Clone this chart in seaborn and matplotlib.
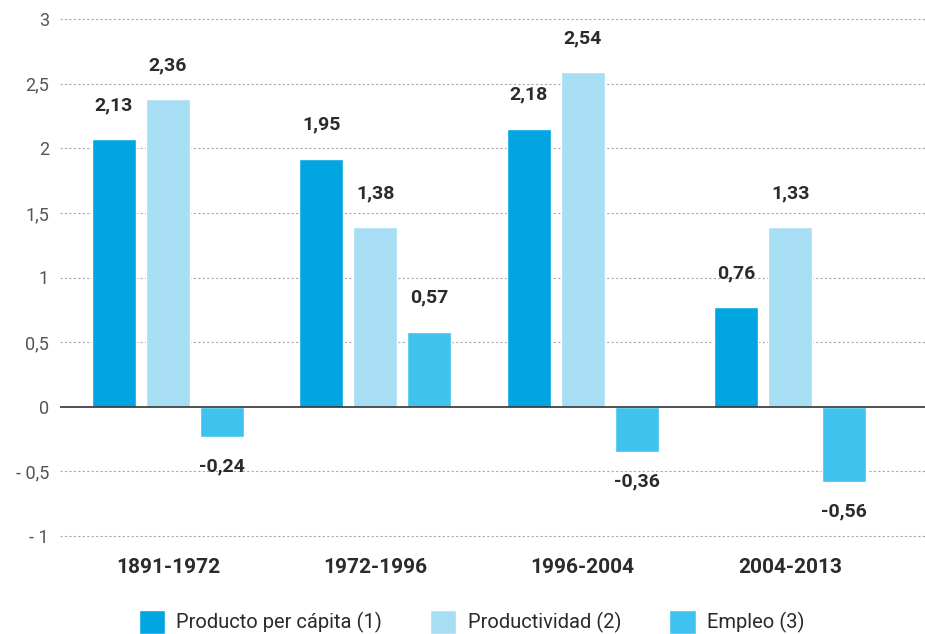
import matplotlib
matplotlib.use("Agg")
import matplotlib.pyplot as plt
from matplotlib import font_manager
import seaborn as sns
import pandas as pd

periods = ["1891-1972", "1972-1996", "1996-2004", "2004-2013"]
series = ["Producto per cápita (1)", "Productividad (2)", "Empleo (3)"]
# bar heights as drawn in the reference
producto = [2.07, 1.92, 2.15, 0.77]
productividad = [2.38, 1.39, 2.59, 1.39]
empleo = [-0.23, 0.58, -0.35, -0.58]
# printed value labels
producto_lbl = ["2,13", "1,95", "2,18", "0,76"]
productividad_lbl = ["2,36", "1,38", "2,54", "1,33"]
empleo_lbl = ["-0,24", "0,57", "-0,36", "-0,56"]
ytick_vals = [3, 2.5, 2, 1.5, 1, 0.5, 0, -0.5, -1]
ytick_labels = ["3", "2,5", "2", "1,5", "1", "0,5", "0", "- 0,5", "- 1"]
colors = ["#00A5E2", "#A7DEF4", "#3FC3EE"]

sns.set_theme(style="white")

def pick_font(cands):
    for c in cands:
        try:
            font_manager.findfont(font_manager.FontProperties(family=c), fallback_to_default=False)
            return c
        except Exception:
            continue
    return "DejaVu Sans"

fam = pick_font(["Roboto", "DejaVu Sans"])
plt.rcParams["font.family"] = [fam, "DejaVu Sans"]

df = pd.DataFrame({
    "period": periods * 3,
    "serie": [series[0]] * 4 + [series[1]] * 4 + [series[2]] * 4,
    "value": producto + productividad + empleo,
})
labels_by_series = [producto_lbl, productividad_lbl, empleo_lbl]

fig = plt.figure(figsize=(9.25, 6.34), dpi=100)
ax = fig.add_axes([60 / 925, (634 - 542.5) / 634, 865 / 925, 530 / 634])

sns.barplot(data=df, x="period", y="value", hue="serie", order=periods,
            hue_order=series, palette=colors, width=0.78, gap=0.185,
            saturation=1, ax=ax, legend=True, zorder=3)

ax.set_ylim(-1.05, 3.05)
ax.set_xlim(-0.52, 3.65)
ax.set_yticks(ytick_vals)
ax.set_yticklabels(ytick_labels, color="#555555", fontsize=13)
ax.tick_params(axis="y", length=0, pad=8)
ax.tick_params(axis="x", length=0, pad=11, labelsize=15)
for t in ax.get_xticklabels():
    t.set_fontweight("bold")
    t.set_color("#2b2b2b")
ax.set_xlabel("")
ax.set_ylabel("")
for s in ax.spines.values():
    s.set_visible(False)

for v in ytick_vals:
    if v == 0:
        ax.axhline(0, color="#333333", lw=1.2, zorder=4)
    else:
        ax.axhline(v, color="#aaaaaa", lw=0.8, ls=(0, (2, 2)), zorder=1)

for cont, lbls in zip(ax.containers, labels_by_series):
    for p, lbl in zip(cont, lbls):
        h = p.get_height()
        x = p.get_x() + p.get_width() / 2
        if h >= 0:
            ax.annotate(lbl, (x, h), xytext=(0, 18), textcoords="offset points",
                        ha="center", va="bottom", fontsize=14, fontweight="bold",
                        color="#2b2b2b")
        else:
            ax.annotate(lbl, (x, h), xytext=(0, -15), textcoords="offset points",
                        ha="center", va="top", fontsize=14, fontweight="bold",
                        color="#2b2b2b")

handles, texts = ax.get_legend_handles_labels()
ax.get_legend().remove()
leg = fig.legend(handles, texts, loc="center", bbox_to_anchor=(471.5 / 925, 12 / 634),
                 ncol=3, frameon=False, fontsize=14.5, handlelength=1.3,
                 handleheight=1.4, columnspacing=2.4, handletextpad=0.55,
                 borderpad=0.0)
for t in leg.get_texts():
    t.set_color("#2b2b2b")

fig.savefig("out.png", dpi=100)
